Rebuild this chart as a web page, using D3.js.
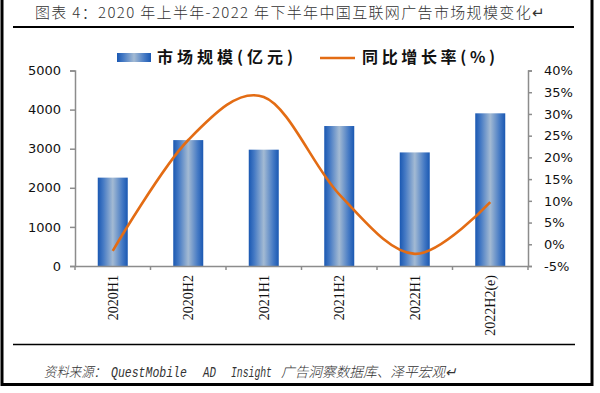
<!DOCTYPE html>
<html><head><meta charset="utf-8">
<script src="https://cdn.jsdelivr.net/npm/d3@7"></script>
<style>
html,body{margin:0;padding:0;background:#fff;}
svg{display:block;}
</style></head>
<body>
<svg id="c" width="600" height="393"></svg>
<script>
const categories = ["2020H1","2020H2","2021H1","2021H2","2022H1","2022H2(e)"];
const marketSize = [2260, 3220, 2975, 3580, 2905, 3905];
const growthRate = [-1.5, 24.0, 33.9, 11.5, -2.2, 9.7];
const leftTicks = [0, 1000, 2000, 3000, 4000, 5000];
const rightTicks = [-5, 0, 5, 10, 15, 20, 25, 30, 35, 40];
const titleText = "图表 4：2020 年上半年-2022 年下半年中国互联网广告市场规模变化↵";
const sourceParts = ["资料来源：", "QuestMobile", "AD", "Insight", "广告洞察数据库、泽平宏观↵"];
const legendBar = "市场规模(亿元)";
const legendLine = "同比增长率(%)";

const svg = d3.select("#c");
const defs = svg.append("defs");
const grad = defs.append("linearGradient").attr("id","barGrad").attr("x1","0").attr("x2","1").attr("y1","0").attr("y2","0");
[[0,"#1a58b2"],[0.18,"#4479c4"],[0.5,"#a3bad3"],[0.82,"#4479c4"],[1,"#1a58b2"]].forEach(([o,c])=>grad.append("stop").attr("offset",o).attr("stop-color",c));

// frame
svg.append("path").attr("d","M2,0 V384.5 H592 V0").attr("fill","none").attr("stroke","#000").attr("stroke-width",3);
svg.append("line").attr("x1",13).attr("x2",574).attr("y1",27).attr("y2",27).attr("stroke","#000").attr("stroke-width",2);
svg.append("line").attr("x1",13).attr("x2",575).attr("y1",344.5).attr("y2",344.5).attr("stroke","#000").attr("stroke-width",1.6);

svg.append("text").attr("x",35).attr("y",18).attr("textLength",510).attr("lengthAdjust","spacing")
  .style("font-family","'Noto Sans CJK SC'").style("font-size","15px").style("font-weight",300).attr("fill","#333")
  .text(titleText);

// source line: each part fitted to its width with a horizontal scale
const srcX = [44, 111, 203, 231, 281];
const srcLen = [62, 76, 13, 41, 176];
sourceParts.forEach((t,i) => {
  const latin = /^[A-Za-z]+$/.test(t);
  const el = svg.append("text").attr("fill","#333")
    .style("font-size","14px").style("font-style","italic").style("font-weight",300)
    .style("font-family", latin ? "'Liberation Mono'" : "'Noto Sans CJK SC'")
    .text(t);
  const w = el.node().getComputedTextLength() || srcLen[i];
  el.attr("transform", `translate(${srcX[i]},377) scale(${srcLen[i]/w},1)`);
});

const x0 = 75, x1 = 528, yTop = 70.5, yBot = 266;
const xc = d3.scaleBand().domain(categories).range([x0, x1]);
const yL = d3.scaleLinear().domain([0,5000]).range([yBot, yTop]);
const yR = d3.scaleLinear().domain([-5,40]).range([yBot, yTop]);

// bars
svg.append("g").selectAll("rect").data(categories).join("rect")
  .attr("x", d => xc(d) + xc.bandwidth()/2 - 15)
  .attr("width", 30)
  .attr("y", (d,i) => yL(marketSize[i]))
  .attr("height", (d,i) => yBot - yL(marketSize[i]))
  .attr("fill","url(#barGrad)");

// axes
const axColor = "#8c8c8c";
const gl = svg.append("g").attr("transform",`translate(${x0},0)`)
  .call(d3.axisLeft(yL).tickValues(leftTicks).tickSize(5).tickPadding(9).tickFormat(d3.format("d")));
const gr = svg.append("g").attr("transform",`translate(${x1},0)`)
  .call(d3.axisRight(yR).tickValues(rightTicks).tickSize(4).tickPadding(12).tickFormat(d => d + "%"));
[gl, gr].forEach(g => {
  g.select(".domain").attr("stroke",axColor).attr("stroke-width",1.5);
  g.selectAll(".tick line").attr("stroke",axColor).attr("stroke-width",1.5);
  g.selectAll(".tick text").attr("fill","#111").style("font-family","'DejaVu Sans'").style("font-size","13px");
});
const gb = svg.append("g").attr("transform",`translate(0,${yBot})`)
  .call(d3.axisBottom(xc).tickSize(0).tickPadding(0));
gb.select(".domain").attr("stroke",axColor).attr("stroke-width",1.5);
gb.selectAll(".tick text").attr("fill","#111").style("font-family","'Liberation Serif'").style("font-size","14px")
  .attr("transform","rotate(-90)").attr("text-anchor","end").attr("x",-9).attr("y",0).attr("dy","0.35em");
// category boundary ticks
svg.append("g").selectAll("line").data(d3.range(categories.length+1)).join("line")
  .attr("x1", i => x0 + i*xc.step()).attr("x2", i => x0 + i*xc.step())
  .attr("y1", yBot).attr("y2", yBot+4).attr("stroke",axColor).attr("stroke-width",1.5);

// line
const line = d3.line().x((d,i) => xc(categories[i]) + xc.bandwidth()/2).y(d => yR(d)).curve(d3.curveCatmullRom.alpha(0));
svg.append("path").datum(growthRate).attr("d", line).attr("fill","none").attr("stroke","#e36c14").attr("stroke-width",2.6);

// legend
svg.append("rect").attr("x",117).attr("y",53).attr("width",34).attr("height",9).attr("fill","url(#barGrad)");
svg.append("text").attr("x",157).attr("y",63).attr("textLength",136).attr("lengthAdjust","spacing")
  .style("font-family","'Noto Sans CJK SC'").style("font-size","16px").style("font-weight",700).attr("fill","#111").text(legendBar);
svg.append("line").attr("x1",320).attr("x2",355).attr("y1",58).attr("y2",58).attr("stroke","#e36c14").attr("stroke-width",2.6);
svg.append("text").attr("x",362).attr("y",63).attr("textLength",133).attr("lengthAdjust","spacing")
  .style("font-family","'Noto Sans CJK SC'").style("font-size","16px").style("font-weight",700).attr("fill","#111").text(legendLine);
</script>
</body></html>
